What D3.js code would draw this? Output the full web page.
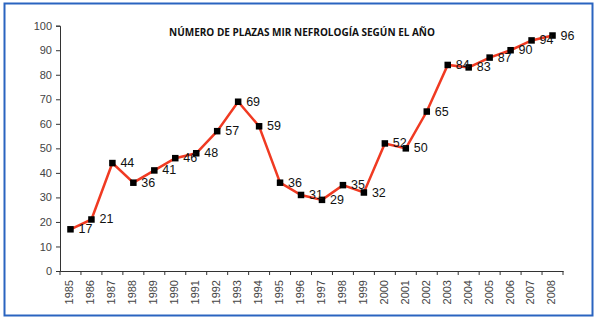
<!DOCTYPE html>
<html><head><meta charset="utf-8">
<script src="https://cdn.jsdelivr.net/npm/d3@7"></script>
<style>body{margin:0;background:#fff}svg{display:block}</style>
</head><body>
<script>
const years = ["1985","1986","1987","1988","1989","1990","1991","1992","1993","1994","1995","1996","1997","1998","1999","2000","2001","2002","2003","2004","2005","2006","2007","2008"];
const plazas = [17,21,44,36,41,46,48,57,69,59,36,31,29,35,32,52,50,65,84,83,87,90,94,96];
const yTicks = [0,10,20,30,40,50,60,70,80,90,100];
const title = "NÚMERO DE PLAZAS MIR NEFROLOGÍA SEGÚN EL AÑO";

const W = 600, H = 321;
const svg = d3.select("body").append("svg").attr("width", W).attr("height", H);
svg.append("rect").attr("x", 4.5).attr("y", 3.5).attr("width", 588).attr("height", 312)
  .attr("fill", "#fff").attr("stroke", "#2a64c0").attr("stroke-width", 2);

const x = d3.scaleBand().domain(years).range([60, 563]);
const y = d3.scaleLinear().domain([0, 100]).range([271, 25.7]);

const yAxis = svg.append("g").attr("transform", "translate(60,0)")
  .call(d3.axisLeft(y).tickValues(yTicks).tickSize(4).tickPadding(4));
yAxis.selectAll("text").attr("font-family", "Liberation Sans, Arial, sans-serif").attr("font-size", 11).attr("fill", "#444");
yAxis.selectAll("line,path").attr("stroke", "#333");

const xAxis = svg.append("g").attr("transform", "translate(0,271)")
  .call(d3.axisBottom(x).tickSize(0).tickSizeOuter(0));
xAxis.selectAll("path").attr("stroke", "#333");
xAxis.selectAll(".tick text")
  .attr("font-family", "Liberation Sans, Arial, sans-serif").attr("font-size", 11).attr("fill", "#444")
  .attr("transform", "rotate(-90)").attr("text-anchor", "end")
  .attr("dominant-baseline", "middle").attr("dy", 0).attr("x", -9).attr("y", 0);
// category boundary ticks
const bounds = years.map(d => x(d)).concat([x.range()[1]]);
svg.append("g").selectAll("line").data(bounds).join("line")
  .attr("x1", d => d).attr("x2", d => d).attr("y1", 271).attr("y2", 275).attr("stroke", "#333");

svg.append("text").attr("x", 302).attr("y", 36).attr("text-anchor", "middle")
  .attr("font-family", "Open Sans, sans-serif").attr("font-weight", "bold").attr("font-size", 10).attr("fill", "#111")
  .text(title);

const cx = d => x(d) + x.bandwidth() / 2;
const line = d3.line().x((d, i) => cx(years[i])).y(d => y(d));
svg.append("path").datum(plazas).attr("d", line).attr("fill", "none").attr("stroke", "#f03a22").attr("stroke-width", 2.5);

svg.append("g").selectAll("rect").data(plazas).join("rect")
  .attr("x", (d, i) => cx(years[i]) - 3.25).attr("y", d => y(d) - 3.25).attr("width", 6.5).attr("height", 6.5).attr("fill", "#000");

svg.append("g").selectAll("text").data(plazas).join("text")
  .attr("x", (d, i) => cx(years[i]) + 8).attr("y", d => y(d)).attr("dominant-baseline", "central")
  .attr("font-family", "Liberation Sans, Arial, sans-serif").attr("font-size", 12.5).attr("fill", "#111")
  .text(d => d);
</script>
</body></html>
